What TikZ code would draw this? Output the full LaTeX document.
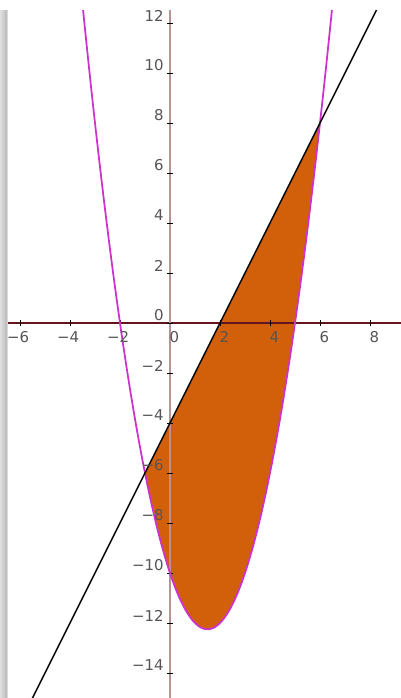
\documentclass[tikz,border=0pt]{standalone}
\usepackage{fontspec}
\setmainfont{DejaVu Sans}
\begin{document}
\begin{tikzpicture}[x=0.5cm,y=0.5cm,
  lbl/.style={font=\fontsize{8.5}{9}\selectfont, text=labelgray, inner sep=0pt},
  xaxis/.style={draw=axisred, line width=0.6pt},
  yaxis/.style={draw=axispink, line width=0.7pt},
  tickmark/.style={draw=black, line width=0.5pt},
  parab/.style={draw=curvemag, line width=1.0pt},
  linecurve/.style={draw=black, line width=0.8pt}]
\definecolor{labelgray}{RGB}{85,85,85}
\definecolor{axisred}{RGB}{100,20,30}
\definecolor{axispink}{RGB}{185,145,145}
\definecolor{curvemag}{RGB}{205,50,205}
\definecolor{fillorange}{RGB}{210,96,10}
% page
\useasboundingbox (-6.8,-15.0) rectangle (9.24,12.92);
\fill[white] (-6.8,-15.0) rectangle (9.24,12.92);
% left shadow
\shade[left color=gray!25, right color=gray!50] (-6.8,-15.0) rectangle (-6.56,12.52);
\shade[left color=gray!50, right color=gray!10] (-6.56,-15.0) rectangle (-6.48,12.52);
\begin{scope}
\clip (-6.48,-15.0) rectangle (9.24,12.52);
% filled region
\fill[fillorange] (-1,-6) -- (6,8) -- plot[domain=6:-1,samples=80,smooth] (\x,{\x*\x-3*\x-10}) -- cycle;
% axes
\draw[xaxis] (-6.48,0) -- (9.24,0);
\draw[yaxis] (0,-15) -- (0,12.52);
\foreach \t in {-6,-4,-2,2,4,6,8} \draw[tickmark] (\t,-0.12) -- (\t,0.12);
\foreach \t in {-14,-12,...,12} \draw[tickmark] (-0.12,\t) -- (0.12,\t);
% curves
\draw[parab] plot[domain=-3.5:6.5,samples=120,smooth] (\x,{\x*\x-3*\x-10});
\draw[linecurve] (-5.6,-15.2) -- (8.4,12.8);
\end{scope}
% x labels
\foreach \t/\s in {-6/−6,-4/−4,-2/−2,0/0,2/2,4/4,6/6,8/8}
  \node[lbl, anchor=east] (xl\t) at (\t+0.38,-0.56) {\s};
% y labels
\foreach \t/\s in {12/12,10/10,8/8,6/6,4/4,2/2,0/0,-2/−2,-4/−4,-6/−6,-8/−8,-10/−10,-12/−12,-14/−14}
  \node[lbl, anchor=east] (yl\t) at (-0.24,\t+0.3) {\s};
\end{tikzpicture}
\end{document}
